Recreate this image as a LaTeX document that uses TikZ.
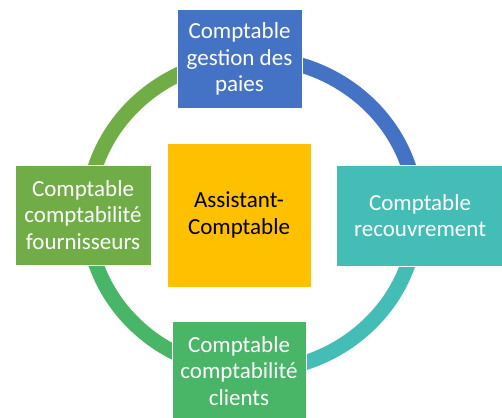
\documentclass[tikz,border=0pt]{standalone}
\usepackage{fontspec}
\setmainfont{Carlito}
\definecolor{cblue}{HTML}{4472C4}
\definecolor{cteal}{HTML}{45BDB7}
\definecolor{cgreen}{HTML}{48B567}
\definecolor{colive}{HTML}{70AD47}
\definecolor{cyellow}{HTML}{FFC000}
\tikzset{
  box/.style={draw=white, line width=1pt, inner sep=0pt, align=center,
    text=white, font=\fontsize{23}{26.5}\selectfont},
  ring/.style={line width=15pt, line cap=butt}
}
\begin{document}
\begin{tikzpicture}[x=1pt,y=-1pt]
\useasboundingbox (0,0) rectangle (502,417);
\clip (0,0) rectangle (502,417);
\coordinate (ringc) at (252,214.5);
% ring segments
\draw[ring, cblue] (ringc) ++(-90:164.5 and 156.5) arc[start angle=-90, end angle=0, x radius=164.5, y radius=156.5];
\draw[ring, cteal] (ringc) ++(0:164.5 and 156.5) arc[start angle=0, end angle=90, x radius=164.5, y radius=156.5];
\draw[ring, cgreen] (ringc) ++(90:164.5 and 156.5) arc[start angle=90, end angle=180, x radius=164.5, y radius=156.5];
\draw[ring, colive] (ringc) ++(180:164.5 and 156.5) arc[start angle=180, end angle=270, x radius=164.5, y radius=156.5];
% boxes
\node[box, fill=cblue, minimum width=125pt, minimum height=98pt] (top) at (239.5,59) {Comptable\\gestion des\\paies};
\node[box, fill=cteal, minimum width=168pt, minimum height=101pt] (right) at (420,215.5) {Comptable\\recouvrement};
\node[box, fill=cgreen, minimum width=134pt, minimum height=100pt] (bottom) at (239,371) {Comptable\\comptabilité\\clients};
\node[box, fill=colive, minimum width=136pt, minimum height=100pt] (left) at (83,215) {Comptable\\comptabilité\\fournisseurs};
\node[box, fill=cyellow, text=black, minimum width=144pt, minimum height=144pt] (center) at (239,215) {Assistant-\\Comptable};
\end{tikzpicture}
\end{document}
